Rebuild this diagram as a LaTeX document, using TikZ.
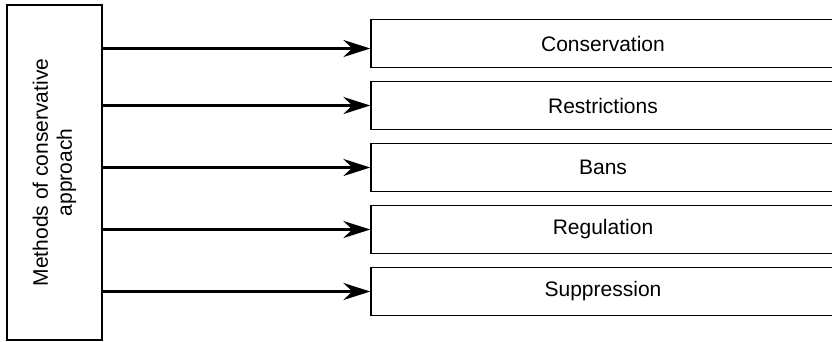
\documentclass[tikz,border=0pt]{standalone}
\usepackage{fontspec}
\setmainfont{Liberation Sans}
\usetikzlibrary{arrows.meta,positioning}

\begin{document}
\begin{tikzpicture}[x=1pt, y=1pt, node distance=62pt,
    methodbox/.style={draw, line width=1.3pt, rectangle, minimum width=464pt, minimum height=48pt},
    arr/.style={line width=3pt, -{Stealth[length=27pt, width=17pt, inset=9pt]}}]
      \clip (0,0) rectangle (832,-341);
      \fontsize{21}{24}\selectfont

      \node[draw, line width=1.3pt, rectangle, rotate=90, minimum width=335pt, minimum height=95pt, align=center] (src) at (54.5,-172.5) {Methods of conservative\\approach};

      \node[methodbox] (cons) at (603,-43.5) {Conservation};
      \node[methodbox, below of = cons] (restr) {Restrictions};
      \node[methodbox, below of = restr] (bans) {Bans};
      \node[methodbox, below of = bans] (regul) {Regulation};
      \node[methodbox, below of = regul] (suppr) {Suppression};

      \draw[arr] ([yshift=-5pt]src.south |- cons.west) -- ([yshift=-5pt]cons.west);
      \draw[arr] (src.south |- restr.west) -- (restr.west);
      \draw[arr] (src.south |- bans.west) -- (bans.west);
      \draw[arr] (src.south |- regul.west) -- (regul.west);
      \draw[arr] (src.south |- suppr.west) -- (suppr.west);
    \end{tikzpicture}
\end{document}
